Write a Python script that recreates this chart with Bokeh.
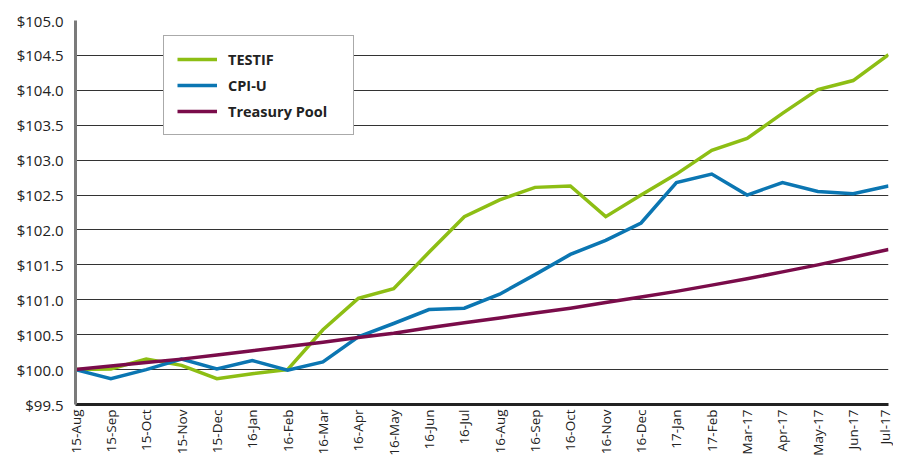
from math import pi
from bokeh.plotting import figure
from bokeh.models import FixedTicker, NumeralTickFormatter, Legend, LegendItem, Range1d
from bokeh.embed import file_html
from bokeh.resources import INLINE

months = ["15-Aug", "15-Sep", "15-Oct", "15-Nov", "15-Dec", "16-Jan", "16-Feb", "16-Mar",
          "16-Apr", "16-May", "16-Jun", "16-Jul", "16-Aug", "16-Sep", "16-Oct", "16-Nov",
          "16-Dec", "17-Jan", "17-Feb", "Mar-17", "Apr-17", "May-17", "Jun-17", "Jul-17"]
testif = [100.00, 100.01, 100.15, 100.06, 99.87, 99.94, 100.00, 100.57, 101.02, 101.16,
          101.68, 102.19, 102.43, 102.61, 102.63, 102.19, 102.50, 102.80, 103.14, 103.31,
          103.67, 104.01, 104.14, 104.51]
cpiu = [100.00, 99.87, 100.00, 100.15, 100.01, 100.13, 99.99, 100.11, 100.47, 100.66,
        100.86, 100.88, 101.08, 101.36, 101.65, 101.85, 102.10, 102.68, 102.80, 102.50,
        102.68, 102.55, 102.52, 102.63]
treasury = [100.00, 100.05, 100.10, 100.15, 100.21, 100.27, 100.33, 100.39, 100.46, 100.52,
            100.60, 100.67, 100.74, 100.81, 100.88, 100.96, 101.04, 101.12, 101.21, 101.30,
            101.40, 101.50, 101.61, 101.72]
series_names = ["TESTIF", "CPI-U", "Treasury Pool"]
y_ticks = [99.5, 100.0, 100.5, 101.0, 101.5, 102.0, 102.5, 103.0, 103.5, 104.0, 104.5, 105.0]

colors = ["#8DBE14", "#0B76B2", "#7A0C4A"]
FONT = "Open Sans"

x = list(range(len(months)))

p = figure(width=893, height=458, output_backend="svg", toolbar_location=None,
           x_range=Range1d(0, len(months) - 1), y_range=Range1d(y_ticks[0], y_ticks[-1]),
           min_border_left=75, min_border_right=5, min_border_top=20, min_border_bottom=49)
p.outline_line_color = None
p.background_fill_color = "white"

renderers = []
for ys, c in zip([testif, cpiu, treasury], colors):
    r = p.line(x, ys, line_color=c, line_width=3.5, line_join="miter")
    renderers.append(r)

# axes
p.xaxis.ticker = FixedTicker(ticks=x)
p.xaxis.major_label_overrides = {i: m for i, m in enumerate(months)}
p.xaxis.major_label_orientation = pi / 2
p.xaxis.major_label_text_font = FONT
p.xaxis.major_label_text_font_size = "13.5px"
p.xaxis.major_label_text_color = "#222222"
p.xaxis.major_label_standoff = 5
p.xaxis.major_tick_line_color = None
p.xaxis.minor_tick_line_color = None
p.xaxis.major_tick_out = 0
p.xaxis.major_tick_in = 0
p.xaxis.minor_tick_out = 0
p.xaxis.axis_line_color = "#222222"
p.xaxis.axis_line_width = 3

p.yaxis.ticker = FixedTicker(ticks=y_ticks)
p.yaxis.formatter = NumeralTickFormatter(format="$0.0")
p.yaxis.major_label_text_font = FONT
p.yaxis.major_label_text_font_size = "15px"
p.yaxis.major_label_text_color = "#222222"
p.yaxis.major_label_standoff = 12
p.yaxis.major_tick_line_color = None
p.yaxis.minor_tick_line_color = None
p.yaxis.major_tick_out = 0
p.yaxis.major_tick_in = 0
p.yaxis.minor_tick_out = 0
p.yaxis.axis_line_color = "#7a7a7a"
p.yaxis.axis_line_width = 3

p.xgrid.grid_line_color = None
p.ygrid.grid_line_color = "#333333"
p.ygrid.grid_line_width = 1.2

legend = Legend(items=[LegendItem(label=n, renderers=[r]) for n, r in zip(series_names, renderers)],
                location=(88, 269), border_line_color="#555555", border_line_width=1,
                background_fill_color="white", background_fill_alpha=1.0,
                label_text_font=FONT, label_text_font_style="bold", label_text_font_size="14.5px",
                label_text_color="#222222", glyph_width=40, glyph_height=20, spacing=6,
                label_standoff=11, label_width=112, padding=13, margin=0)
p.add_layout(legend, "center")

open("out.html", "w").write(file_html(p, INLINE))
